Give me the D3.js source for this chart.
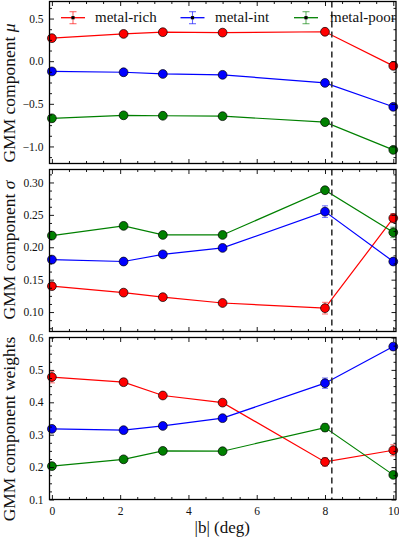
<!DOCTYPE html>
<html><head><meta charset="utf-8">
<script src="https://cdn.jsdelivr.net/npm/d3@7"></script>
<style>body{margin:0;background:#fff}svg{display:block}svg text{font-family:"Liberation Serif","DejaVu Serif",serif}</style>
</head><body><svg id="c" width="399" height="539"></svg>
<script>
// ---------- data ----------
const xVals = [0, 2.1, 3.25, 5, 8, 10];
const seriesNames = ["metal-rich", "metal-int", "metal-poor"];
const seriesColors = ["#ff0000", "#0000ff", "#008000"];

const muRich = [0.27, 0.32, 0.34, 0.335, 0.345, -0.055];
const muInt  = [-0.12, -0.13, -0.15, -0.16, -0.255, -0.535];
const muPoor = [-0.67, -0.635, -0.64, -0.645, -0.715, -1.04];
const muErrRich = [0.01, 0.01, 0.01, 0.01, 0.012, 0.015];
const muErrInt  = [0.01, 0.01, 0.01, 0.01, 0.012, 0.015];
const muErrPoor = [0.01, 0.01, 0.01, 0.01, 0.012, 0.015];

const sigRich = [0.14, 0.13, 0.123, 0.114, 0.106, 0.245];
const sigInt  = [0.181, 0.178, 0.189, 0.199, 0.255, 0.178];
const sigPoor = [0.218, 0.233, 0.219, 0.219, 0.288, 0.223];
const sigErrRich = [0.003, 0.003, 0.003, 0.003, 0.009, 0.007];
const sigErrInt  = [0.003, 0.003, 0.003, 0.004, 0.009, 0.004];
const sigErrPoor = [0.003, 0.003, 0.003, 0.003, 0.004, 0.008];

const wRich = [0.478, 0.462, 0.421, 0.399, 0.216, 0.252];
const wInt  = [0.318, 0.314, 0.327, 0.351, 0.459, 0.572];
const wPoor = [0.203, 0.224, 0.25, 0.249, 0.322, 0.176];
const wErrRich = [0.018, 0.01, 0.006, 0.005, 0.013, 0.017];
const wErrInt  = [0.006, 0.006, 0.006, 0.006, 0.016, 0.01];
const wErrPoor = [0.005, 0.006, 0.006, 0.005, 0.012, 0.008];

const xMajorTicks = [0, 2, 4, 6, 8, 10];
const muTicks = [-1.0, -0.5, 0.0, 0.5];
const sigTicks = [0.10, 0.15, 0.20, 0.25, 0.30];
const wTicks = [0.1, 0.2, 0.3, 0.4, 0.5, 0.6];
const muTickLabels = ["\u22121.0", "\u22120.5", "0.0", "0.5"];
const sigTickLabels = ["0.10", "0.15", "0.20", "0.25", "0.30"];
const wTickLabels = ["0.1", "0.2", "0.3", "0.4", "0.5", "0.6"];
const dividerX = 8.2;

// ---------- layout ----------
const svg = d3.select("#c");
svg.append("rect").attr("width", 399).attr("height", 539).attr("fill", "#fff");
const L = 49.5, R = 396;
const x = d3.scaleLinear().domain([-0.07, 10.08]).range([L, R]);
const PH = 162;

const panels = [
  { top: 1.5, domain: [-1.2, 0.7], ticks: muTicks, labels: muTickLabels, minor: 0.125,
    ylabel: ["GMM component ", "\u03bc"], labelY: 93,
    series: [[muRich, muErrRich], [muInt, muErrInt], [muPoor, muErrPoor]] },
  { top: 169.5, domain: [0.07, 0.32], ticks: sigTicks, labels: sigTickLabels, minor: 0.0125,
    ylabel: ["GMM component ", "\u03c3"], labelY: 250,
    series: [[sigRich, sigErrRich], [sigInt, sigErrInt], [sigPoor, sigErrPoor]] },
  { top: 337.5, domain: [0.1, 0.6], ticks: wTicks, labels: wTickLabels, minor: 0.025,
    ylabel: ["GMM component weights", ""], labelY: 429,
    series: [[wRich, wErrRich], [wInt, wErrInt], [wPoor, wErrPoor]] }
];

function minorVals(dom, step, majors) {
  const out = [];
  const s = Math.ceil(dom[0] / step - 1e-9), e = Math.floor(dom[1] / step + 1e-9);
  for (let k = s; k <= e; k++) {
    const v = k * step;
    if (!majors.some(m => Math.abs(m - v) < 1e-9)) out.push(v);
  }
  return out;
}
const xMinor = minorVals([-0.07, 10.08], 0.5, xMajorTicks);

panels.forEach((p, pi) => {
  const y = d3.scaleLinear().domain(p.domain).range([p.top + PH, p.top]);
  const g = svg.append("g");
  const bottom = p.top + PH;
  const isLast = pi === panels.length - 1;

  p.series.forEach(([vals, errs], si) => {
    const col = seriesColors[si];
    const line = d3.line().x((d, i) => x(xVals[i])).y(d => y(d));
    g.append("path").datum(vals).attr("d", line).attr("fill", "none")
      .attr("stroke", col).attr("stroke-width", 1.2);
    const eg = g.append("g").attr("stroke", col).attr("stroke-opacity", 0.5).attr("stroke-width", 1.1);
    vals.forEach((v, i) => {
      const cx = x(xVals[i]), y1 = y(v - errs[i]), y2 = y(v + errs[i]);
      eg.append("line").attr("x1", cx).attr("x2", cx).attr("y1", y1).attr("y2", y2);
      eg.append("line").attr("x1", cx - 3).attr("x2", cx + 3).attr("y1", y1).attr("y2", y1);
      eg.append("line").attr("x1", cx - 3).attr("x2", cx + 3).attr("y1", y2).attr("y2", y2);
    });
    g.selectAll(null).data(vals).enter().append("circle")
      .attr("cx", (d, i) => x(xVals[i])).attr("cy", d => y(d)).attr("r", 4.4)
      .attr("fill", col).attr("stroke", "#000").attr("stroke-width", 0.7);
  });

  g.append("line").attr("x1", x(dividerX)).attr("x2", x(dividerX))
    .attr("y1", p.top).attr("y2", bottom)
    .attr("stroke", "#333").attr("stroke-width", 1.6).attr("stroke-dasharray", "6,4");

  const ax = (gen) => g.append("g").call(gen).call(s => s.select(".domain").remove())
    .attr("font-family", null).attr("font-size", null);
  const yMinor = minorVals(p.domain, p.minor, p.ticks);
  ax(d3.axisLeft(y).tickValues(p.ticks).tickSizeInner(-4.5).tickSizeOuter(0).tickPadding(6)
      .tickFormat((d, i) => p.labels[i])).attr("transform", `translate(${L},0)`);
  ax(d3.axisLeft(y).tickValues(yMinor).tickSizeInner(-2.5).tickSizeOuter(0).tickFormat(""))
      .attr("transform", `translate(${L},0)`);
  ax(d3.axisRight(y).tickValues(p.ticks).tickSizeInner(-4.5).tickSizeOuter(0).tickFormat(""))
      .attr("transform", `translate(${R},0)`);
  ax(d3.axisRight(y).tickValues(yMinor).tickSizeInner(-2.5).tickSizeOuter(0).tickFormat(""))
      .attr("transform", `translate(${R},0)`);
  ax(d3.axisBottom(x).tickValues(xMajorTicks).tickSizeInner(-4.5).tickSizeOuter(0).tickPadding(7)
      .tickFormat(d => isLast ? String(d) : "")).attr("transform", `translate(0,${bottom})`);
  ax(d3.axisBottom(x).tickValues(xMinor).tickSizeInner(-2.5).tickSizeOuter(0).tickFormat(""))
      .attr("transform", `translate(0,${bottom})`);
  ax(d3.axisTop(x).tickValues(xMajorTicks).tickSizeInner(-4.5).tickSizeOuter(0).tickFormat(""))
      .attr("transform", `translate(0,${p.top})`);
  ax(d3.axisTop(x).tickValues(xMinor).tickSizeInner(-2.5).tickSizeOuter(0).tickFormat(""))
      .attr("transform", `translate(0,${p.top})`);
  g.selectAll(".tick line").attr("stroke", "#000").attr("stroke-width", 0.9);
  g.selectAll(".tick text").style("font-size", "11.5px").attr("fill", "#111");

  g.append("rect").attr("x", L).attr("y", p.top).attr("width", R - L).attr("height", PH)
    .attr("fill", "none").attr("stroke", "#000").attr("stroke-width", 1.3);

  const t = g.append("text").attr("transform", `translate(15,${p.labelY}) rotate(-90)`)
    .attr("text-anchor", "middle").style("font-size", "17.5px").attr("fill", "#111");
  t.append("tspan").text(p.ylabel[0]);
  if (p.ylabel[1]) t.append("tspan").attr("font-style", "italic").text(p.ylabel[1]);

  if (pi === 0) {
    const lx = [73, 192.5, 306], tx = [95, 215, 330], ly = 17.7;
    seriesNames.forEach((nm, si) => {
      const col = seriesColors[si];
      const lg = g.append("g");
      lg.append("line").attr("x1", lx[si] - 12).attr("x2", lx[si] + 12).attr("y1", ly).attr("y2", ly)
        .attr("stroke", col).attr("stroke-width", 1.3);
      const eg = lg.append("g").attr("stroke", col).attr("stroke-opacity", 0.6).attr("stroke-width", 1.1);
      eg.append("line").attr("x1", lx[si]).attr("x2", lx[si]).attr("y1", ly - 6).attr("y2", ly + 6);
      eg.append("line").attr("x1", lx[si] - 3.5).attr("x2", lx[si] + 3.5).attr("y1", ly - 6).attr("y2", ly - 6);
      eg.append("line").attr("x1", lx[si] - 3.5).attr("x2", lx[si] + 3.5).attr("y1", ly + 6).attr("y2", ly + 6);
      lg.append("rect").attr("x", lx[si] - 1.6).attr("y", ly - 1.6).attr("width", 3.2).attr("height", 3.2)
        .attr("fill", "#000");
      lg.append("text").attr("x", tx[si]).attr("y", ly + 4.5)
        .style("font-size", "15px").attr("fill", "#111").text(nm);
    });
  }
});

svg.append("text").attr("x", (L + R) / 2 - 0.5).attr("y", 533).attr("text-anchor", "middle")
  .style("font-size", "17px").attr("fill", "#111").text("|b| (deg)");
</script>
</body></html>
